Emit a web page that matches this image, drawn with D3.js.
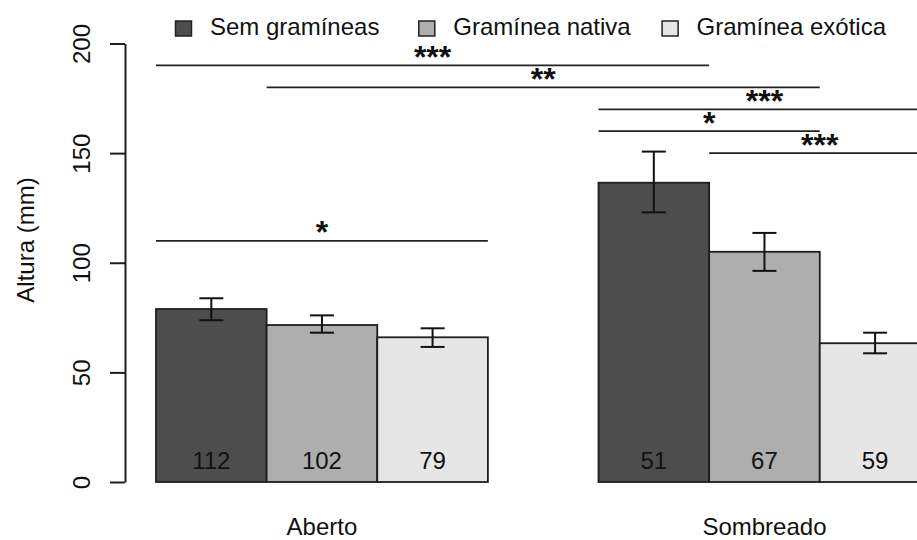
<!DOCTYPE html>
<html><head><meta charset="utf-8">
<script src="https://cdn.jsdelivr.net/npm/d3@7"></script>
<style>body{margin:0;background:#fff}svg{display:block}text{font-family:"Liberation Sans",Arial,sans-serif;fill:#111}</style>
</head><body>
<script>
const groups = ["Aberto", "Sombreado"];
const series = ["Sem gramíneas", "Gramínea nativa", "Gramínea exótica"];
const colors = ["#4D4D4D", "#AEAEAE", "#E6E6E6"];
const means = [[78.9, 71.6, 66.0], [136.5, 105.0, 63.3]];
const upper = [[83.8, 76.0, 70.1], [150.7, 113.6, 68.1]];
const lower = [[73.8, 68.1, 61.6], [123.0, 96.3, 58.7]];
const counts = [[112, 102, 79], [51, 67, 59]];
const yTicks = [0, 50, 100, 150, 200];
// comparisons: [groupA, seriesA, groupB, seriesB, y level, label]
const comparisons = [
  [0, 0, 1, 0, 190, "***"],
  [0, 1, 1, 1, 180, "**"],
  [1, 0, 1, 2, 170, "***"],
  [1, 0, 1, 1, 160, "*"],
  [1, 1, 1, 2, 150, "***"],
  [0, 0, 0, 2, 110, "*"]
];

const W = 917, H = 540;
const svg = d3.select("body").append("svg").attr("width", W).attr("height", H);
const y = d3.scaleLinear().domain([0, 200]).range([482, 43.5]);
const xG = d3.scaleBand().domain(groups).range([156, 930.4]).paddingInner(0.25).paddingOuter(0);
const xS = d3.scaleBand().domain(series).range([0, xG.bandwidth()]).padding(0);
const left = (g, s) => xG(groups[g]) + xS(series[s]);
const right = (g, s) => left(g, s) + xS.bandwidth();
const mid = (g, s) => left(g, s) + xS.bandwidth() / 2;

const flat = [];
groups.forEach((g, gi) => series.forEach((s, si) => flat.push({gi, si})));

// bars
svg.append("g").selectAll("rect").data(flat).join("rect")
  .attr("x", d => left(d.gi, d.si)).attr("width", xS.bandwidth())
  .attr("y", d => y(means[d.gi][d.si])).attr("height", d => y(0) - y(means[d.gi][d.si]))
  .attr("fill", d => colors[d.si]).attr("stroke", "#1e1e1e").attr("stroke-width", 1.8);

// counts
svg.append("g").selectAll("text").data(flat).join("text")
  .attr("x", d => mid(d.gi, d.si)).attr("y", y(0) - 13.5)
  .attr("text-anchor", "middle").style("font-size", "24px")
  .text(d => counts[d.gi][d.si]);

// error bars
const eb = svg.append("g").attr("stroke", "#111").attr("stroke-width", 2).attr("fill", "none");
flat.forEach(d => {
  const cx = mid(d.gi, d.si), hi = y(upper[d.gi][d.si]), lo = y(lower[d.gi][d.si]);
  eb.append("line").attr("x1", cx).attr("x2", cx).attr("y1", hi).attr("y2", lo);
  eb.append("line").attr("x1", cx - 12).attr("x2", cx + 12).attr("y1", hi).attr("y2", hi);
  eb.append("line").attr("x1", cx - 12).attr("x2", cx + 12).attr("y1", lo).attr("y2", lo);
});

// significance lines
const sg = svg.append("g");
comparisons.forEach(c => {
  const x1 = left(c[0], c[1]), x2 = right(c[2], c[3]), yy = y(c[4]);
  sg.append("line").attr("x1", x1).attr("x2", x2).attr("y1", yy).attr("y2", yy)
    .attr("stroke", "#222").attr("stroke-width", 1.7);
  sg.append("text").attr("x", (x1 + x2) / 2).attr("y", yy + 2.5)
    .attr("text-anchor", "middle").style("font-size", "32px").style("font-weight", "bold")
    .text(c[5]);
});

// y axis
const ax = svg.append("g").attr("transform", "translate(125,0)")
  .call(d3.axisLeft(y).tickValues(yTicks).tickSize(15).tickSizeOuter(0).tickFormat(d3.format("d")));
ax.select(".domain").attr("stroke", "#1e1e1e").attr("stroke-width", 2);
ax.selectAll(".tick line").attr("stroke", "#1e1e1e").attr("stroke-width", 2);
ax.selectAll(".tick text").attr("x", null).attr("dy", null).attr("y", null)
  .attr("transform", "translate(-35.5,0) rotate(-90)")
  .attr("text-anchor", "middle").style("font-size", "24px").attr("fill", "#111")
  .style("font-family", "'Liberation Sans',Arial,sans-serif");

// y label
svg.append("text").attr("transform", "translate(34,240) rotate(-90)")
  .attr("text-anchor", "middle").style("font-size", "24px").text("Altura (mm)");

// group labels
svg.append("g").selectAll("text").data(groups).join("text")
  .attr("x", g => xG(g) + xG.bandwidth() / 2).attr("y", 535)
  .attr("text-anchor", "middle").style("font-size", "24px").text(g => g);

// legend
const lg = svg.append("g").selectAll("g").data(series).join("g")
  .attr("transform", (d, i) => `translate(${175 + i * 243.3},0)`);
lg.append("rect").attr("x", 0.5).attr("y", 21).attr("width", 16).attr("height", 15)
  .attr("fill", (d, i) => colors[i]).attr("stroke", "#222").attr("stroke-width", 1.5);
lg.append("text").attr("x", 35).attr("y", 35).style("font-size", "24px").text(d => d);
</script>
</body></html>
